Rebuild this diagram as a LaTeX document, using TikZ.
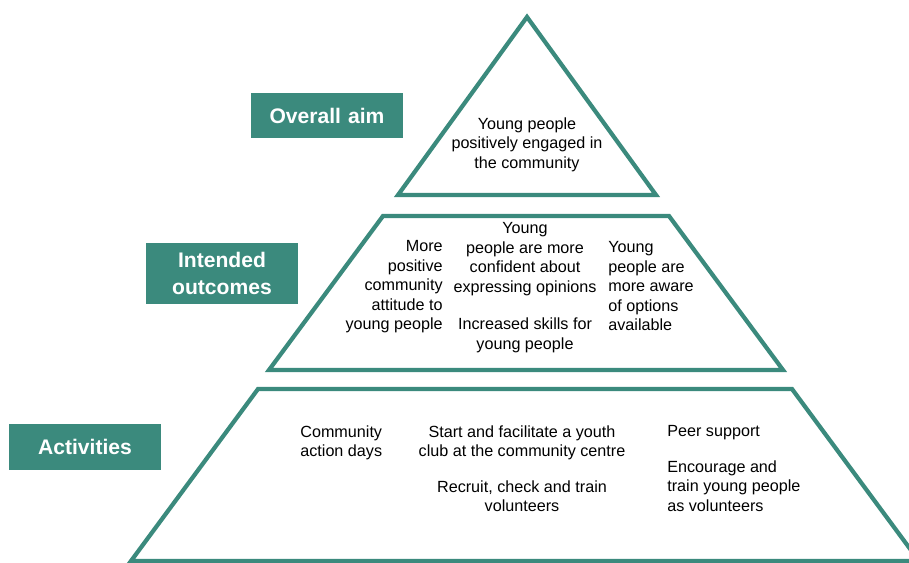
\documentclass[tikz,border=0pt]{standalone}
\usepackage{fontspec}
\setmainfont{Liberation Sans}
\usepackage{xcolor}
\definecolor{teal}{RGB}{59,138,125}

\begin{document}
\begin{tikzpicture}[x=0.02cm,y=-0.02cm,
  layer/.style={draw=teal, line width=2.4pt, line join=miter},
  label/.style={fill=teal, text=white, font=\fontsize{12}{15.4}\selectfont\bfseries, align=center, inner sep=0pt, text width=3.04cm},
  txt/.style={font=\fontsize{9.2}{11.1}\selectfont, inner sep=0pt}]
\useasboundingbox (0,0) rectangle (909,563);
% pyramid
\draw [layer] (527,17) -- (656,195) -- (398,195) -- cycle;
\draw [layer] (383,216) -- (669,216) -- (783,370) -- (269,370) -- cycle;
\draw [layer] (258,389) -- (792,389) -- (919,561) -- (131,561) -- cycle;
% labels on the left
\node [label, minimum height=0.9cm] (aim) at (327,115.5) {Overall aim};
\node [label, minimum height=1.22cm] (outcomes) at (222,273.5) {Intended\\outcomes};
\node [label, minimum height=0.92cm] (activities) at (85,447) {Activities};
% overall aim
\node [txt, align=center] (engaged) at (527,144.5) {Young people\\positively engaged in\\the community};
% intended outcomes
\node [txt, align=right, anchor=east] (attitude) at (443,287) {More\\positive\\community\\attitude to\\young people};
\node [txt, align=center] (confident) at (525,259) {Young\\people are more\\confident about\\expressing opinions};
\node [txt, align=center] (skills) at (525,335.5) {Increased skills for\\young people};
\node [txt, align=left, anchor=west] (aware) at (608,286.5) {Young\\people are\\more aware\\of options\\available};
% activities
\node [txt, align=left, anchor=west] (actiondays) at (300,443) {Community\\action days};
\node [txt, align=center] (youthclub) at (522,443) {Start and facilitate a youth\\club at the community centre};
\node [txt, align=center] (recruit) at (522,496) {Recruit, check and train\\volunteers};
\node [txt, align=left, anchor=west] (peer) at (667,433) {Peer support};
\node [txt, align=left, anchor=west] (encourage) at (667,486) {Encourage and\\train young people\\as volunteers};
\end{tikzpicture}
\end{document}
